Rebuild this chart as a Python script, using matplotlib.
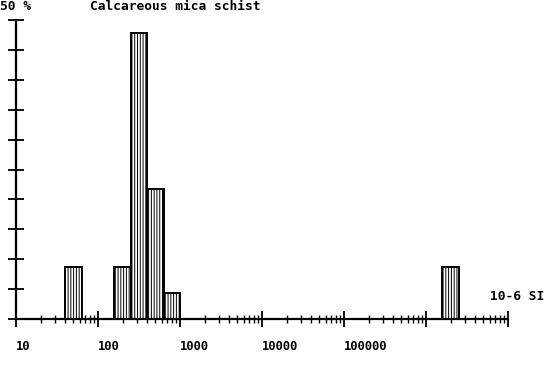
import numpy as np
import matplotlib.pyplot as plt
from matplotlib.ticker import LogLocator, NullFormatter

# bins in log10 of susceptibility (10-6 SI), percent of samples
bin_lo = [1.6, 2.2, 2.4, 2.6, 2.8, 6.2]
bin_hi = [1.8, 2.4, 2.6, 2.8, 3.0, 6.4]
percent = [8.7, 8.7, 47.8, 21.7, 4.3, 8.7]

xtick_vals = [10, 100, 1000, 10000, 100000, 1000000, 10000000]
xtick_labels = ['10', '100', '1000', '10000', '100000', '', '']

plt.rcParams['font.family'] = ['DejaVu Sans Mono']
plt.rcParams['font.weight'] = 'bold'
plt.rcParams['hatch.linewidth'] = 0.7

fig = plt.figure(figsize=(5.57, 3.70), dpi=100)
ax = fig.add_axes([16 / 557, 51 / 370, 492 / 557, 299 / 370])

left = 10 ** np.array(bin_lo)
width = 10 ** np.array(bin_hi) - left
ax.bar(left, percent, width=width, align='edge', facecolor='white',
       edgecolor='black', linewidth=1.4, hatch='||||||', zorder=2)

ax.set_xscale('log')
ax.set_xlim(10, 1e7)
ax.set_ylim(0, 50)

ax.set_xticks(xtick_vals)
ax.set_xticklabels(xtick_labels)
ax.xaxis.set_minor_locator(LogLocator(base=10, subs=np.arange(2, 10)))
ax.xaxis.set_minor_formatter(NullFormatter())
for lab in ax.get_xticklabels():
    lab.set_horizontalalignment('left')

ax.set_yticks(np.arange(0, 51, 5))
ax.set_yticklabels([])

ax.tick_params(axis='x', which='major', direction='inout', length=12,
               width=1.3, pad=9, labelsize=8.7)
ax.tick_params(axis='x', which='minor', direction='inout', length=6, width=1.0)
ax.tick_params(axis='y', which='major', direction='inout', length=12, width=1.3)

for side in ['top', 'right']:
    ax.spines[side].set_visible(False)
for side in ['left', 'bottom']:
    ax.spines[side].set_linewidth(1.6)
ax.spines['bottom'].set_zorder(3)

fig.text(0 / 557, 1 - 6 / 370, '50 %', fontsize=9.3, va='center', ha='left')
fig.text(90 / 557, 1 - 6 / 370, 'Calcareous mica schist', fontsize=9.3,
         va='center', ha='left')
fig.text(490 / 557, 1 - 297 / 370, '10-6 SI', fontsize=9.3, va='center',
         ha='left')

fig.savefig('out.png', dpi=100)
